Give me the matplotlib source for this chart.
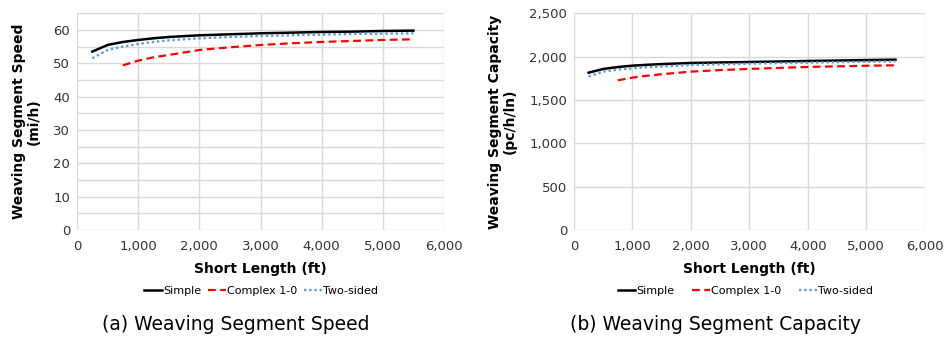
import matplotlib
matplotlib.use("Agg")
import matplotlib.pyplot as plt
from matplotlib.ticker import MultipleLocator, FuncFormatter

plt.rcParams['font.family'] = ['DejaVu Sans']

length_simple = [250, 500, 750, 1000, 1250, 1500, 2000, 2500, 3000, 3500, 4000, 4500, 5000, 5500]
length_complex = [750, 1000, 1250, 1500, 2000, 2500, 3000, 3500, 4000, 4500, 5000, 5500]

speed_simple = [53.5, 55.5, 56.4, 57.0, 57.5, 57.9, 58.4, 58.7, 59.0, 59.2, 59.4, 59.5, 59.7, 59.8]
speed_complex = [49.4, 50.8, 51.8, 52.5, 54.0, 54.8, 55.5, 56.0, 56.4, 56.7, 57.0, 57.2]
speed_two = [51.5, 54.0, 55.0, 55.8, 56.4, 56.9, 57.5, 57.9, 58.2, 58.4, 58.6, 58.8, 58.9, 59.0]

cap_simple = [1815, 1858, 1880, 1896, 1906, 1914, 1927, 1933, 1938, 1944, 1950, 1955, 1960, 1965]
cap_complex = [1727, 1758, 1780, 1797, 1827, 1845, 1858, 1870, 1881, 1888, 1895, 1900]
cap_two = [1770, 1827, 1850, 1865, 1877, 1886, 1904, 1912, 1919, 1925, 1931, 1936, 1941, 1946]

labels = ["Simple", "Complex 1-0", "Two-sided"]
xticks = [0, 1000, 2000, 3000, 4000, 5000, 6000]

fig = plt.figure(figsize=(9.48, 3.43), dpi=100)
ax1 = fig.add_axes([77/948, 1-230/343, (444-77)/948, (230-13.3)/343])
ax2 = fig.add_axes([574/948, 1-230/343, (924.7-574)/948, (230-13.3)/343])

comma = FuncFormatter(lambda v, p: f"{int(v):,}")
tick_color = "#333333"
grid_color = "#d9d9d9"

def style(ax, ymax, ymajor, yminor, ylabel):
    ax.set_xlim(0, 6000)
    ax.set_ylim(0, ymax)
    ax.set_xticks(xticks)
    ax.xaxis.set_major_formatter(comma)
    ax.yaxis.set_major_locator(MultipleLocator(ymajor))
    if yminor:
        ax.yaxis.set_minor_locator(MultipleLocator(yminor))
        ax.grid(True, which='minor', axis='y', color=grid_color, lw=1)
    ax.yaxis.set_major_formatter(comma)
    ax.grid(True, which='major', color=grid_color, lw=1)
    ax.set_axisbelow(True)
    for s in ax.spines.values():
        s.set_visible(False)
    ax.tick_params(which='both', length=0, labelsize=9.5, colors=tick_color, pad=5)
    ax.tick_params(axis='x', pad=7)
    ax.set_xlabel("Short Length (ft)", fontsize=10, fontweight='bold', labelpad=7)
    ax.set_ylabel(ylabel, fontsize=10, fontweight='bold', linespacing=1.1, labelpad=9)

def draw(ax, ys, yc, yt):
    l1, = ax.plot(length_simple, ys, color='black', lw=1.8, label=labels[0])
    l2, = ax.plot(length_complex, yc, color='#ff0000', lw=1.6, ls=(0, (3.5, 2)), label=labels[1])
    l3, = ax.plot(length_simple, yt, color='#5b9bd5', lw=1.7, ls=(0, (1, 1.2)), label=labels[2])
    return [l1, l2, l3]

h1 = draw(ax1, speed_simple, speed_complex, speed_two)
style(ax1, 65, 10, 5, "Weaving Segment Speed\n(mi/h)")
h2 = draw(ax2, cap_simple, cap_complex, cap_two)
style(ax2, 2500, 500, None, "Weaving Segment Capacity\n(pc/h/ln)")

for cx, cs in ((261/948, 0.6), (745.5/948, 1.6)):
    fig.legend(handles=h1, labels=labels, loc='center', bbox_to_anchor=(cx, 1-291/343),
               ncol=3, frameon=False, fontsize=8, handlelength=1.6, handletextpad=0.1,
               columnspacing=cs)

fig.text(236/948, 1-325/343, "(a) Weaving Segment Speed", ha='center', va='center', fontsize=13.5)
fig.text(715/948, 1-325/343, "(b) Weaving Segment Capacity", ha='center', va='center', fontsize=13.5)

fig.savefig("out.png", dpi=100)
